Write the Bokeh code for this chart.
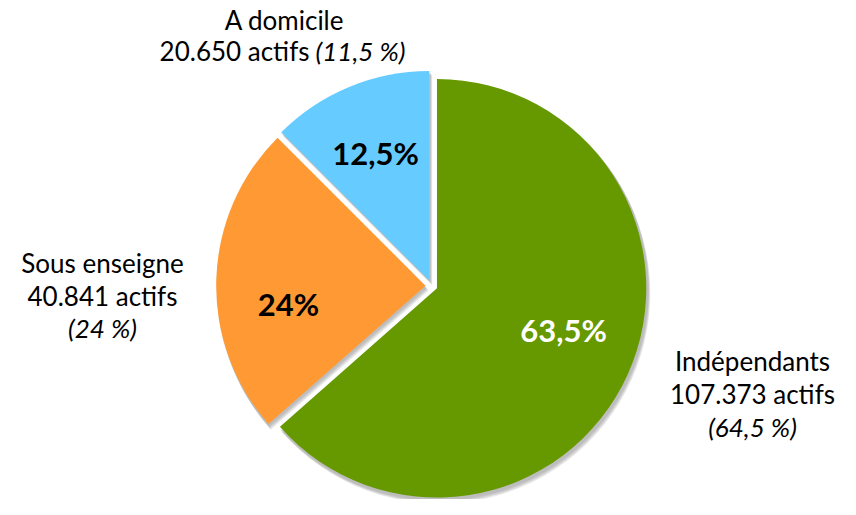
import math
from bokeh.plotting import figure
from bokeh.models import Range1d
from bokeh.core.properties import value
from bokeh.embed import file_html
from bokeh.resources import INLINE

# ---- data ----
categories = ["Indépendants", "Sous enseigne", "A domicile"]
shares = [63.5, 24.0, 12.5]
share_labels = ["63,5%", "24%", "12,5%"]
actifs = ["107.373 actifs", "40.841 actifs", "20.650 actifs"]
actifs_pct = ["(64,5 %)", "(24 %)", "(11,5 %)"]

# ---- styles ----
colors = ["#669900", "#FF9933", "#66CCFF"]
label_colors = ["white", "black", "black"]
FONT = "Lato"
W, H = 840, 499
REF_H = 515
SY = H / REF_H        # vertical fit factor

def Y(img_y):
    return H - img_y * SY

p = figure(width=W, height=H, output_backend="svg", toolbar_location=None,
           x_range=Range1d(0, W), y_range=Range1d(0, H), min_border=0)
p.axis.visible = False
p.grid.visible = False
p.outline_line_color = None

cx, cy = 431, 294.5   # pie centre (reference px)
R = 216 * SY
explode = 6

starts, ends, centers = [], [], []
a = 90.0
for s in shares:
    sweep = s / 100 * 360
    st, en = a - sweep, a
    starts.append(math.radians(st))
    ends.append(math.radians(en))
    mid = math.radians((st + en) / 2)
    centers.append((cx + explode * math.cos(mid), Y(cy) + explode * math.sin(mid)))
    a -= sweep

xs = [c[0] for c in centers]
ys = [c[1] for c in centers]

for off in [5, 4, 3, 2]:
    p.wedge(x=[x + off * 0.6 for x in xs], y=[y - off for y in ys], radius=R + 1,
            start_angle=starts, end_angle=ends, fill_color="#808080",
            fill_alpha=0.17, line_color=None)

p.wedge(x=xs, y=ys, radius=R, start_angle=starts, end_angle=ends,
        fill_color=colors, line_color=None)

inner_pos = [(563, 340), (288, 313), (375, 157)]
p.text(x=[q[0] for q in inner_pos], y=[Y(q[1]) for q in inner_pos], text=share_labels,
       text_color=label_colors, text_font=value(FONT), text_font_style="bold",
       text_font_size="31px", text_align="center", text_baseline="middle")

FS = "26px"
common = dict(text_font=value(FONT), text_font_size=FS, text_baseline="middle",
              text_color="black")
p.text(x=[752, 752], y=[Y(372), Y(406)], text=[categories[0], actifs[0]],
       text_align="center", **common)
p.text(x=[752], y=[Y(440)], text=[actifs_pct[0]], text_font_style="italic",
       text_align="center", **common)
p.text(x=[102, 102], y=[Y(271), Y(305)], text=[categories[1], actifs[1]],
       text_align="center", **common)
p.text(x=[102], y=[Y(338)], text=[actifs_pct[1]], text_font_style="italic",
       text_align="center", **common)
p.text(x=[284], y=[Y(20)], text=[categories[2]], text_align="center", **common)
p.text(x=[309], y=[Y(52)], text=[actifs[2]], text_align="right", **common)
p.text(x=[315], y=[Y(52)], text=[actifs_pct[2]], text_font_style="italic",
       text_align="left", **common)

open("out.html", "w").write(file_html(p, INLINE))
